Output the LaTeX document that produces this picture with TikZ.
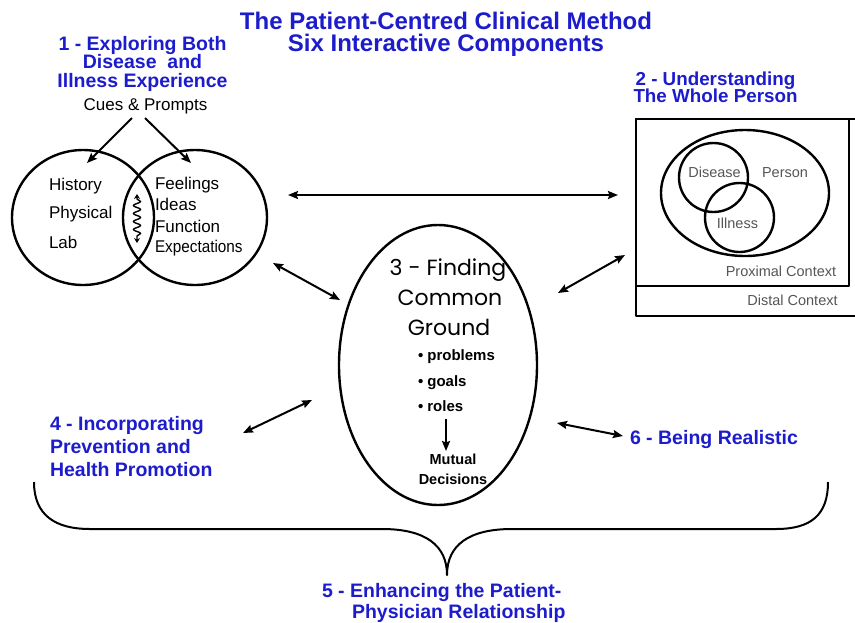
\documentclass[tikz,border=0pt]{standalone}
\usepackage{fontspec}
\usepackage{graphicx}
\setmainfont{Liberation Sans}
\newfontfamily\geofont{Poppins}
\usetikzlibrary{arrows.meta,decorations.pathmorphing}
\definecolor{headblue}{RGB}{28,28,205}
\definecolor{ctxgray}{RGB}{85,85,85}

\tikzset{
  txt/.style={inner sep=0pt, outer sep=0pt},
  titletext/.style={txt, text=headblue, font=\fontsize{24}{20}\selectfont\bfseries},
  heading/.style={txt, text=headblue, font=\fontsize{19.5}{18.5}\selectfont\bfseries},
  subheading/.style={txt, text=headblue, font=\fontsize{18.8}{16}\selectfont\bfseries},
  plain/.style={txt, font=\fontsize{17}{20}\selectfont},
  ctx/.style={txt, text=ctxgray, font=\fontsize{14.5}{16}\selectfont},
  bigword/.style={txt, font=\fontsize{22}{26}\geofont\selectfont},
  bullet/.style={txt, font=\fontsize{15}{18}\selectfont\bfseries},
  decision/.style={txt, font=\fontsize{14.5}{18}\selectfont\bfseries},
  outline/.style={draw=black, line width=2.4pt},
  frame/.style={draw=black, line width=2pt},
  tip/.tip={Stealth[length=10pt,width=8pt,inset=1.5pt]},
  biarrow/.style={line width=2pt, tip-tip},
  onearrow/.style={line width=2pt, -tip},
}

\begin{document}
\begin{tikzpicture}[x=1pt,y=-1pt,line join=round]
\useasboundingbox (0,0) rectangle (855,622);

% ---- title ----
\node[titletext, anchor=base] (title1) at (446,29) {The Patient-Centred Clinical Method};
\node[titletext, anchor=base] (title2) at (446,51.5) {Six Interactive Components};

% ---- component 1: disease and illness ----
\node[heading, anchor=base] (c1a) at (142.5,50) {1 - Exploring Both};
\node[heading, anchor=base] (c1b) at (142.5,68.5) {Disease~ and};
\node[heading, anchor=base] (c1c) at (142.5,87) {Illness Experience};
\node[plain, anchor=base] (cues) at (145.5,110) {Cues \& Prompts};

\coordinate (cuesL) at (132,118);
\coordinate (cuesR) at (145,118);
\coordinate (diseaseIn) at (87,163);
\coordinate (illnessIn) at (191,163);
\draw[onearrow] (cuesL) -- (diseaseIn);
\draw[onearrow] (cuesR) -- (illnessIn);

\draw[outline] (83,217.5) ellipse [x radius=71, y radius=67.5];
\draw[outline] (195,217.5) ellipse [x radius=72, y radius=67.5];

\node[plain, anchor=base west] (hist) at (49,190) {History};
\node[plain, anchor=base west] (phys) at (49,218) {Physical};
\node[plain, anchor=base west] (lab) at (49,248) {Lab};
\node[plain, anchor=base west] (feel) at (155,189) {Feelings};
\node[plain, anchor=base west] (ideas) at (155,210) {Ideas};
\node[plain, anchor=base west] (func) at (155,232) {Function};
\node[plain, anchor=base west] (expt) at (155,252) {\scalebox{0.9}[1]{Expectations}};

% wavy exchange inside the overlap
\coordinate (waveTop) at (137,194);
\coordinate (waveBot) at (137,243);
\draw[line width=1.4pt, {Stealth[length=5pt,width=6pt]}-{Stealth[length=5pt,width=6pt]},
      decorate, decoration={snake, amplitude=3.6pt, segment length=8pt, pre length=5pt, post length=5pt}]
  (waveTop) -- (waveBot);

% ---- component 2: the whole person ----
\node[subheading, anchor=base] (c2a) at (715.5,85) {2 - Understanding};
\node[subheading, anchor=base] (c2b) at (715.5,102) {The Whole Person};

\draw[frame] (636,119) rectangle (849,286);
\draw[frame] (857,119) -- (636,119) -- (636,316) -- (857,316);
\draw[outline] (745,193) ellipse [x radius=84, y radius=63];
\draw[outline] (713.5,177.5) circle [radius=34.5];
\draw[outline] (739.5,217.5) circle [radius=34.5];

\node[ctx, anchor=base] (disease) at (714.5,177) {Disease};
\node[ctx, anchor=base] (person) at (785,177) {Person};
\node[ctx, anchor=base] (illness) at (737.5,228) {Illness};
\node[ctx, anchor=base] (proximal) at (781,276) {Proximal Context};
\node[ctx, anchor=base] (distal) at (792.5,305) {Distal Context};

\coordinate (linkL) at (288,195);
\coordinate (linkR) at (618,195);
\draw[biarrow] (linkL) -- (linkR);

% ---- component 3: common ground ----
\draw[outline] (438,365) ellipse [x radius=99, y radius=140];
\node[bigword, anchor=base] (cg1) at (448,275) {3 - Finding};
\node[bigword, anchor=base] (cg2) at (450,305) {Common};
\node[bigword, anchor=base] (cg3) at (449,335) {Ground};
\node[bullet, anchor=base west] (prob) at (418,360) {• problems};
\node[bullet, anchor=base west] (goals) at (418,386) {• goals};
\node[bullet, anchor=base west] (roles) at (418,411) {• roles};
\coordinate (rolesOut) at (446,419);
\coordinate (mutualIn) at (446,451);
\draw[onearrow] (rolesOut) -- (mutualIn);
\node[decision, anchor=base] (mutual) at (453,464) {Mutual};
\node[decision, anchor=base] (decis) at (453,484) {Decisions};

\coordinate (vennOut) at (273,263);
\coordinate (groundNW) at (340,300);
\draw[biarrow] (vennOut) -- (groundNW);
\coordinate (groundNE) at (558,293);
\coordinate (personOut) at (625,255);
\draw[biarrow] (groundNE) -- (personOut);

% ---- component 4: prevention ----
\node[heading, anchor=base west] (c4a) at (50,430) {4 - Incorporating};
\node[heading, anchor=base west] (c4b) at (50,453) {Prevention and};
\node[heading, anchor=base west] (c4c) at (50,476) {Health Promotion};
\coordinate (prevOut) at (243,433);
\coordinate (groundW) at (312,400);
\draw[biarrow] (prevOut) -- (groundW);

% ---- component 6: realism ----
\node[heading, anchor=base west] (c6) at (630,444) {6 - Being Realistic};
\coordinate (groundE) at (557,423);
\coordinate (realIn) at (623,436);
\draw[biarrow] (groundE) -- (realIn);

% ---- component 5: relationship brace ----
\coordinate (braceL) at (34,482);
\coordinate (braceTip) at (447,575);
\coordinate (braceR) at (828,482);
\draw[line width=2pt]
  (braceL) .. controls (34,515) and (55,529) .. (90,529) -- (382,529)
  .. controls (425,529) and (447,545) .. (braceTip)
  .. controls (447,545) and (469,529) .. (512,529) -- (776,529)
  .. controls (811,529) and (828,515) .. (braceR);
\node[heading, anchor=base west] (c5a) at (322,597) {5 - Enhancing the Patient-};
\node[heading, anchor=base west] (c5b) at (352,618) {Physician Relationship};

\end{tikzpicture}
\end{document}
